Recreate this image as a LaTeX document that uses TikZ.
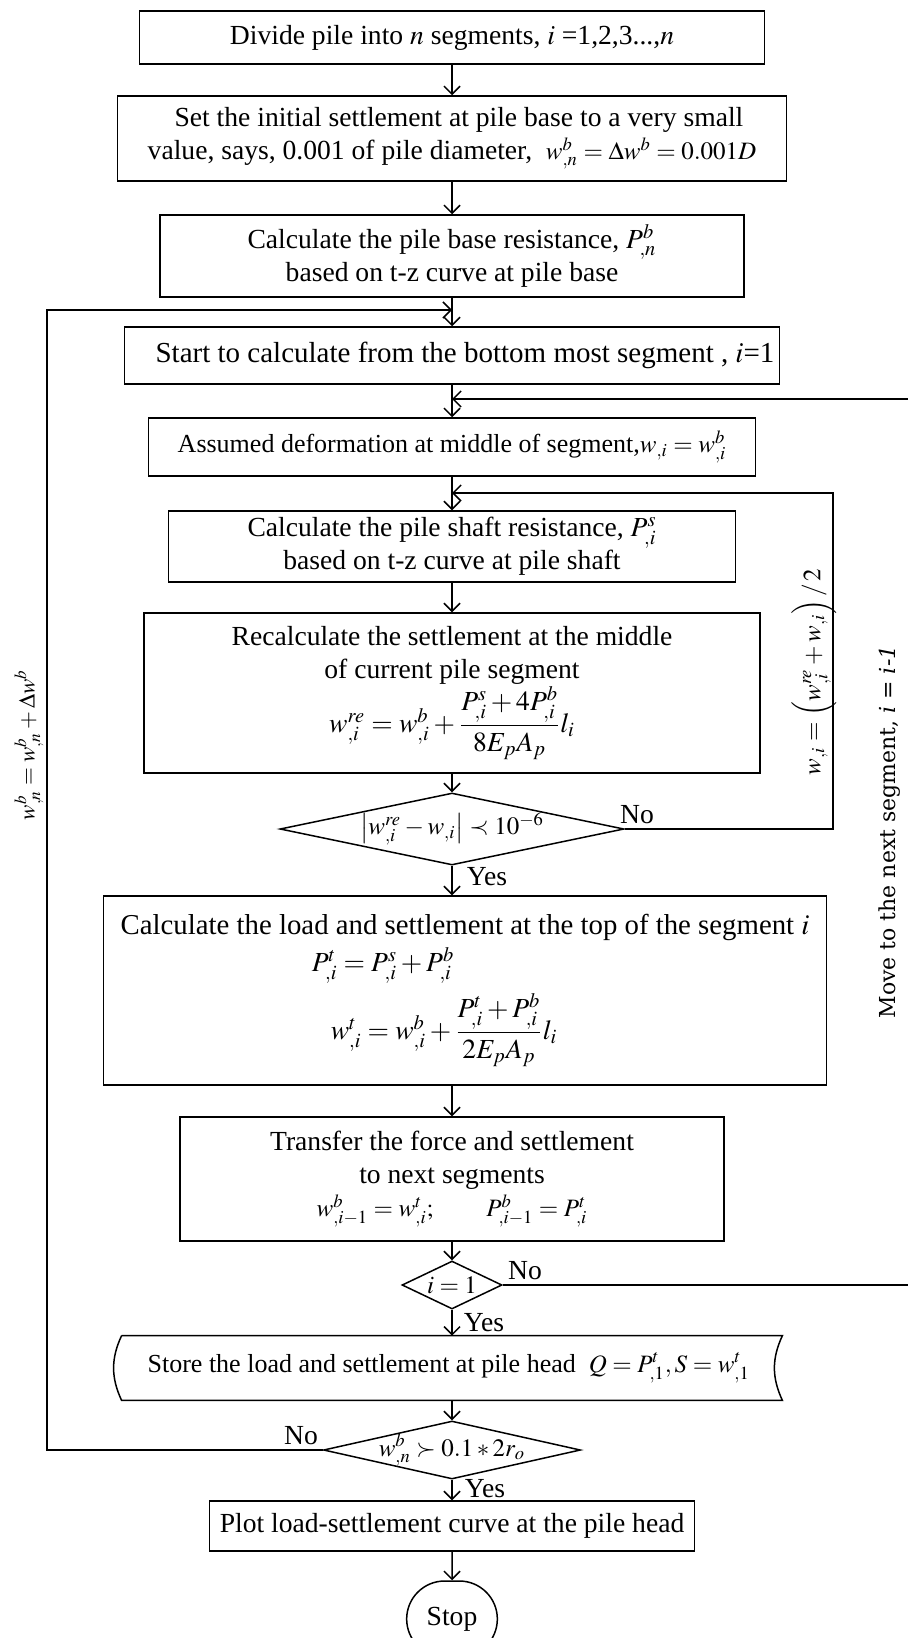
\documentclass[tikz,border=0pt]{standalone}
\usepackage{mathptmx}
\usepackage[no-math]{fontspec}
\setmainfont{Liberation Serif}
\newfontfamily\movefont{DejaVu Serif}
\usetikzlibrary{shapes.geometric,shapes.misc,arrows.meta}
\newcommand{\boxfont}{\fontsize{13.8}{16.5}\selectfont}
\newcommand{\smallmath}[1]{{\fontsize{12.5}{15}\selectfont$#1$}}
\tikzset{
  procbox/.style={draw, line width=0.75pt, align=center, inner sep=2pt, font=\boxfont},
  decision/.style={draw, diamond, line width=0.75pt, inner sep=-3pt, font=\boxfont},
  flowline/.style={line width=0.75pt},
  arr/.style={flowline, -{Straight Barb[length=4pt,width=8pt]}},
  tag/.style={font=\boxfont, inner sep=0pt}
}
\begin{document}
\begin{tikzpicture}[x=0.5pt,y=-0.5pt]
        \useasboundingbox (0,0) rectangle (907,1638);

        % Main column of steps
        \node[procbox, minimum width=312.5pt, minimum height=26.5pt] (divide) at (452,37.5)
             {Divide pile into $n$ segments, $i$ =1,2,3...,$n$};
        \node[procbox, minimum width=334.5pt, minimum height=42.5pt] (initset) at (452,138.5)
             {\ \ Set the initial settlement at pile base to a very small\\
              value, says, 0.001 of pile diameter, \ \smallmath{w^{b}_{,n}=\Delta w^{b}=0.001D}};
        \node[procbox, minimum width=292pt, minimum height=41pt] (baseres) at (452,256)
             {Calculate the pile base resistance, $P^{b}_{,n}$\\ based on t-z curve at pile base};
        \node[procbox, minimum width=327.5pt, minimum height=28.5pt, font=\fontsize{14.5}{16.5}\selectfont]
             (startseg) at (452,355.5)
             {\hspace*{13pt}Start to calculate from the bottom most segment , $i$=1};
        \node[procbox, minimum width=303.5pt, minimum height=29pt, font=\fontsize{13}{16}\selectfont]
             (assume) at (452,447)
             {Assumed deformation at middle of segment,\smallmath{w_{,i}=w^{b}_{,i}}};
        \node[procbox, minimum width=283.5pt, minimum height=35.5pt] (shaftres) at (452,546.5)
             {Calculate the pile shaft resistance, $P^{s}_{,i}$\\ based on t-z curve at pile shaft};
        \node[procbox, minimum width=308pt, minimum height=80pt] (recalc) at (452,693)
             {Recalculate the settlement at the middle\\ of current pile segment\\
              $w^{re}_{,i}=w^{b}_{,i}+\displaystyle\frac{P^{s}_{,i}+4P^{b}_{,i}}{8E_{p}A_{p}}l_{i}$};
        \node[decision, aspect=4.72, minimum width=172pt, minimum height=36pt] (conv) at (452,829)
             {\smallmath{\bigl|w^{re}_{,i}-w_{,i}\bigr|\prec 10^{-6}}};
        \node[procbox, minimum width=361.5pt, minimum height=94.5pt] (topload) at (465,990.5)
             {{\fontsize{14.4}{16.5}\selectfont Calculate the load and settlement at the top of the segment $i$}\\[2pt]
              $P^{t}_{,i}=P^{s}_{,i}+P^{b}_{,i}$\rule{82pt}{0pt}\\[4pt]
              $w^{t}_{,i}=w^{b}_{,i}+\displaystyle\frac{P^{t}_{,i}+P^{b}_{,i}}{2E_{p}A_{p}}l_{i}$\rule{21pt}{0pt}};
        \node[procbox, minimum width=272pt, minimum height=62pt] (transfer) at (452,1179)
             {Transfer the force and settlement\\ to next segments\\
              \smallmath{w^{b}_{,i-1}=w^{t}_{,i};\qquad P^{b}_{,i-1}=P^{t}_{,i}}};
        \node[decision, aspect=2.08, minimum width=50pt, minimum height=24pt] (lastseg) at (452,1285)
             {\smallmath{i=1}};
        \node[font=\fontsize{13}{16}\selectfont, inner sep=2pt, minimum width=330pt, minimum height=32pt]
             (store) at (452,1368)
             {Store the load and settlement at pile head \ \smallmath{Q=P^{t}_{,1},S=w^{t}_{,1}}\ \ };
        \node[decision, aspect=4.43, minimum width=128.5pt, minimum height=29pt] (limit) at (452,1450)
             {\smallmath{w^{b}_{,n}\succ 0.1*2r_{o}}};
        \node[procbox, minimum width=242.5pt, minimum height=25pt] (plot) at (452,1526)
             {Plot load-settlement curve at the pile head};
        \node[draw, rounded rectangle, line width=0.75pt, minimum width=52pt, minimum height=38pt,
              font=\boxfont] (stop) at (452,1619) {Stop};

        % Stored data outline
        \draw[flowline] (store.north west) -- (store.north east) to[bend right=25] (store.south east)
                        -- (store.south west) to[bend left=25] (store.north west);

        % Down the column
        \draw[arr] (divide) -- (initset);
        \draw[arr] (initset) -- (baseres);
        \draw[arr] (baseres) -- (startseg);
        \draw[arr] (startseg) -- (assume);
        \draw[arr] (assume) -- (shaftres);
        \draw[arr] (shaftres) -- (recalc);
        \draw[arr] (recalc) -- (conv);
        \draw[arr] (conv.south) -- (conv.south |- topload.north);
        \draw[arr] (transfer.north |- topload.south) -- (transfer);
        \draw[arr] (transfer) -- (lastseg);
        \draw[arr] (lastseg) -- (store);
        \draw[arr] (store) -- (limit);
        \draw[arr] (limit) -- (plot);
        \draw[arr] (plot) -- (stop);

        % Loops back
        \coordinate (jleft) at (452,310);
        \coordinate (jouter) at (452,399);
        \coordinate (jinner) at (452,493);
        \coordinate (leftrail) at (47,0);
        \coordinate (innerrail) at (833,0);
        \coordinate (outerrail) at (914,0);
        \draw[arr] (limit.west) -- (leftrail |- limit.west) -- (leftrail |- jleft) -- (jleft);
        \draw[arr] (conv.east) -- (innerrail |- conv.east) -- (innerrail |- jinner) -- (jinner);
        \draw[arr] (lastseg.east) -- (outerrail |- lastseg.east) -- (outerrail |- jouter) -- (jouter);

        % Labels
        \node[tag] (no1) at (637,815) {No};
        \node[tag] (yes1) at (487,877) {Yes};
        \node[tag] (no2) at (525,1271) {No};
        \node[tag] (yes2) at (484,1323) {Yes};
        \node[tag] (no3) at (301,1436) {No};
        \node[tag] (yes3) at (485,1489) {Yes};
        \node[tag, rotate=90] (incr) at (29,745)
             {{\fontsize{11.5}{14}\selectfont$w^{b}_{,n}=w^{b}_{,n}+\Delta w^{b}$}};
        \node[tag, rotate=90] (avg) at (814,672) {\smallmath{w_{,i}=\left(w^{re}_{,i}+w_{,i}\right)/\,2}};
        \node[tag, rotate=90, font=\movefont\fontsize{11}{13}\selectfont] (nextseg) at (890,832)
             {Move to the next segment, \textit{i = i-1}};
\end{tikzpicture}
\end{document}
